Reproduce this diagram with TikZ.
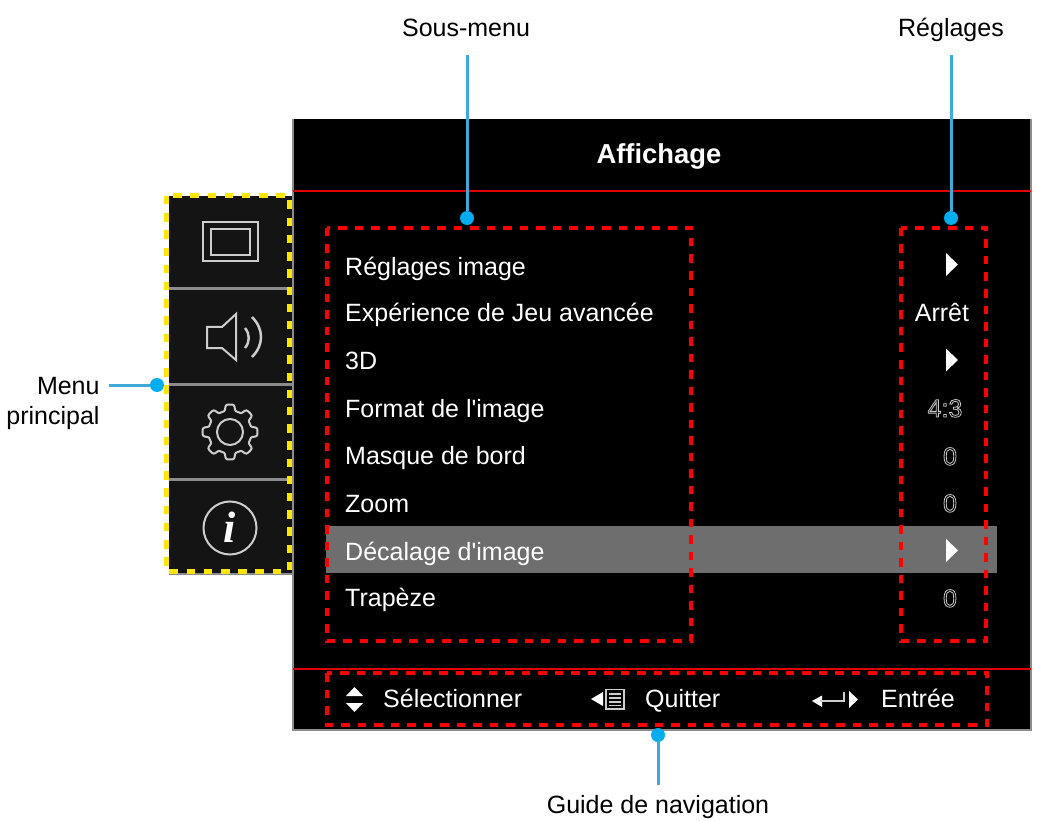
\documentclass[tikz,border=0pt]{standalone}
\usepackage{fontspec}
\setmainfont{Liberation Sans}
\usepackage{xcolor}
\definecolor{panel}{RGB}{20,20,20}
\definecolor{edge}{RGB}{140,140,140}
\definecolor{hilite}{RGB}{110,110,110}
\definecolor{icongrey}{RGB}{205,205,205}
\definecolor{lead}{RGB}{63,169,217}
\definecolor{leaddot}{RGB}{0,174,239}
\definecolor{menured}{RGB}{225,0,0}
\definecolor{dashyellow}{RGB}{255,230,0}
\usetikzlibrary{calc}
\newcommand{\hollow}[1]{\special{pdf:code 1 Tr 0.8 w}#1\special{pdf:code 0 Tr}}
\tikzstyle{item} = [
    anchor=west, inner sep=0pt, text=white,
    text height=23pt, text depth=5pt,
    font=\fontsize{25}{30}\selectfont,
]
\tikzstyle{value} = [
    item, anchor=center,
]
\tikzstyle{digit} = [
    value, text=icongrey,
]
\tikzstyle{redbox} = [
    draw=red, line width=4.5pt,
    dash pattern=on 8.5pt off 8pt,
]
\tikzstyle{yellowbox} = [
    draw=dashyellow, line width=5pt,
    dash pattern=on 8.5pt off 8.7pt,
]
\tikzstyle{icon} = [
    draw=icongrey, line width=2pt,
]
\tikzstyle{tri} = [
    fill=white,
]
\tikzstyle{leadlabel} = [
    inner xsep=0pt, text=black,
    text height=23pt, text depth=5pt,
    font=\fontsize{25}{30}\selectfont,
]
\tikzstyle{leaddot} = [
    circle, fill=leaddot, minimum size=14pt, inner sep=0pt,
]
\tikzstyle{leader} = [
    draw=lead, line width=3pt,
]

\begin{document}
\begin{tikzpicture}[x=1pt,y=-1pt]
    \useasboundingbox (0,0) rectangle (1037,821);

    % panels
    \fill [panel] (169,196) rectangle (292,574);
    \fill [black] (293,119) rectangle (1031,730);
    \draw [edge, line width=1.5pt] (293,119) -- (293,730) -- (1031,730) -- (1031,119);
    \draw [edge, line width=1.5pt] (169,574) -- (293,574);
    \draw [menured, line width=1.5pt] (293,191) -- (1031,191);
    \draw [menured, line width=1.5pt] (293,669) -- (1031,669);
    \foreach \y in {289,384.5,479.5} {
        \draw [edge, line width=3pt] (169,\y) -- (292,\y);
    }
    \fill [hilite] (326,526) rectangle (997,573);

    % icons on the left
    \draw [icon] (203,222) rectangle (258,261);
    \draw [icon] (211,229) rectangle (250,255);
    \draw [icon] (207,327) -- (222,327) -- (236,314) -- (236,360) -- (222,348) -- (207,348) -- cycle;
    \draw [icon, line width=2.5pt] (245,328) .. controls (250,334) and (250,342) .. (245,348);
    \draw [icon, line width=2.5pt] (252,317) .. controls (264,329) and (264,345) .. (252,357);
    \begin{scope}[shift={(230,432)}]
        \draw [icon] plot [domain=0:360, samples=145, smooth] (\x:{24.5+3*tanh(3*cos(8*\x))});
        \draw [icon] (0,0) circle (13);
    \end{scope}
    \draw [icon] (230,528) circle (26.5);
    \node (infoi) at (230,527) [inner sep=0pt, text=white] {\fontspec{Liberation Serif}\fontsize{44}{44}\selectfont\bfseries\itshape i};

    % menu rows
    \foreach \word/\y in {R\'eglages image/267,Exp\'erience de Jeu avanc\'ee/313,3D/361,Format de l\textquotesingle image/408,Masque de bord/455,Zoom/503,D\'ecalage d\textquotesingle image/551,Trap\`eze/597} {
        \node at (345,\y) [item] {\word};
    }
    \node (title) at (659,155) [value, font=\fontsize{27.4}{30}\selectfont\bfseries] {Affichage};

    % values
    \foreach \y in {264.5,360,550.5} {
        \fill [tri] (946,\y-11.5) -- (958,\y) -- (946,\y+11.5) -- cycle;
    }
    \node (arret) at (942,313) [value] {Arr\^et};
    \node (format) at (945,408) [digit] {\hollow{4:3}};
    \foreach \y in {456,503,598} {
        \node at (950,\y) [digit] {\hollow{0}};
    }

    % bottom bar
    \fill [tri] (354.5,687) -- (363,696) -- (346,696) -- cycle;
    \fill [tri] (354.5,712) -- (363,703) -- (346,703) -- cycle;
    \node (select) at (383,698) [item] {S\'electionner};
    \fill [tri] (603,692) -- (603,706) -- (591,699) -- cycle;
    \draw [icon, line width=1.3pt] (606,689.5) rectangle (624,709);
    \foreach \y in {694,698,702,705.5} {
        \draw [icon, line width=1.3pt] (609,\y) -- (621,\y);
    }
    \node (quit) at (645,698) [item] {Quitter};
    \fill [tri] (812,701) -- (822,695.5) -- (822,707) -- cycle;
    \draw [icon, line width=1.6pt] (820,701) -- (844,701) -- (844,692);
    \fill [tri] (849,691) -- (858,699.5) -- (849,708) -- cycle;
    \node (enter) at (881,698) [item] {Entr\'ee};

    % dashed boxes
    \draw [yellowbox] (166,196) rectangle (289,571);
    \draw [redbox] (327,228) rectangle (691,641);
    \draw [redbox] (901,228) rectangle (986,641);
    \draw [redbox] (327,673) rectangle (987,725);

    % labels
    \node (lblsub) at (466,28) [leadlabel, inner ysep=13pt] {Sous-menu};
    \node (lblset) at (951,28) [leadlabel, inner ysep=13pt] {R\'eglages};
    \node (lblguide) at (658,804) [leadlabel, inner ysep=5pt] {Guide de navigation};
    \node (lblmenu) at (53,403) [leadlabel, inner xsep=9pt, align=right, text height=, text depth=, font=\fontsize{25}{30}\selectfont] {Menu\\principal};
    \node (dotsub) at (467,218) [leaddot] {};
    \node (dotset) at (951,218) [leaddot] {};
    \node (dotguide) at (658,735) [leaddot] {};
    \node (dotmenu) at (157,385) [leaddot] {};

    % arrows
    \draw [leader] (lblsub.south -| dotsub) to (dotsub);
    \draw [leader] (lblset.south -| dotset) to (dotset);
    \draw [leader] (lblguide.north) to (dotguide);
    \draw [leader] (lblmenu.east |- dotmenu) to (dotmenu);
\end{tikzpicture}
\end{document}
